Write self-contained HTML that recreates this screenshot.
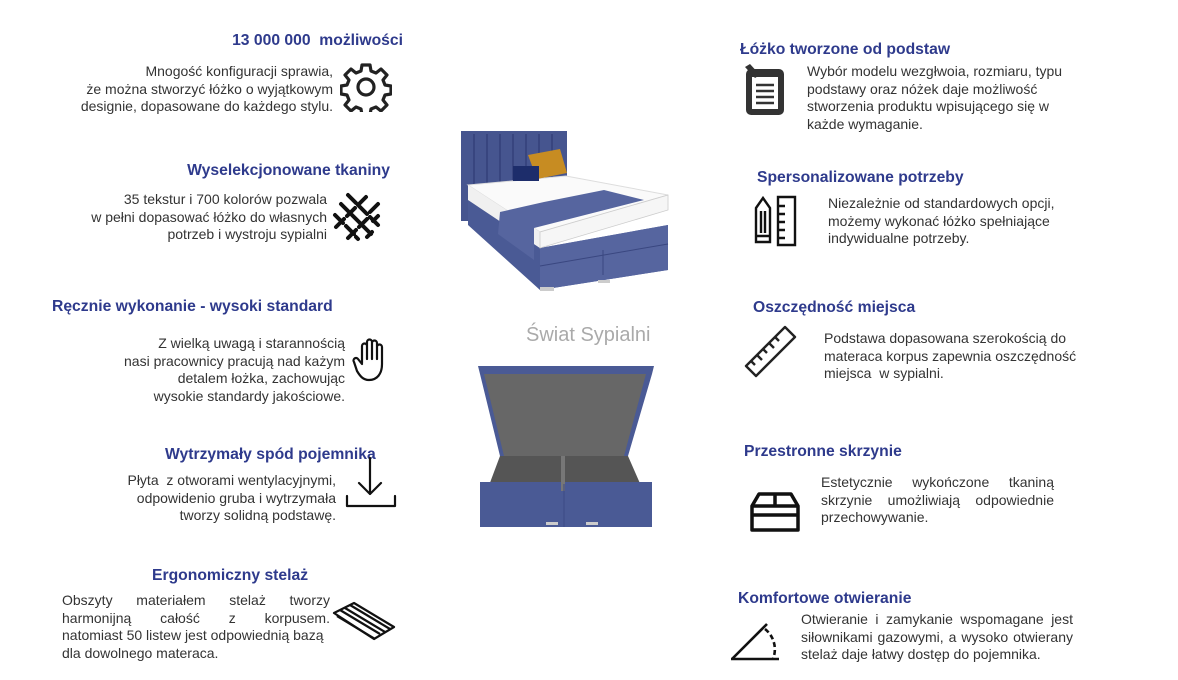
<!DOCTYPE html>
<html><head><meta charset="utf-8"><style>
body{margin:0;width:1178px;height:680px;background:#fff;position:relative;overflow:hidden;font-family:"Liberation Sans",sans-serif}
.t{position:absolute;color:#2e3a8c;font-weight:bold;font-size:15.7px;white-space:nowrap;line-height:18px}
.b{position:absolute;color:#333;font-size:14px;line-height:17.7px}
.r{text-align:right}
.jl{text-align:justify;text-align-last:justify;white-space:nowrap;height:17.7px}
svg{position:absolute}
</style></head><body>
<svg style="left:0;top:0" width="1178" height="680">
<rect x="461" y="131" width="106" height="90" fill="#46558f"/>
<g stroke="#33407a" stroke-width="1.5"><path d="M474 134v78M487 134v78M500 134v78M513 134v78M526 134v78M539 134v78M552 134v78"/></g>
<path d="M468 200v25l72 65 128-20v-45l-128 23z" fill="#4a5a95"/>
<path d="M540 248v42l128-20v-45z" fill="#56659f"/>
<path d="M540 266l128-22" stroke="#3a4780"/>
<path d="M603 250v25" stroke="#3a4780"/>
<path d="M468 185l98-9 102 19-128 37z" fill="#fafafa" stroke="#ddd"/>
<path d="M468 185v15l72 48v-16z" fill="#f0f0f0"/>
<path d="M540 232l128-37v15l-128 38z" fill="#f6f6f6" stroke="#ccc" stroke-width=".8"/>
<path d="M500 212l-2 22 36 26 0-32 110-28-40-10-60 12z" fill="#56659f"/>
<path d="M528 155l32-6 7 24-30 6z" fill="#c78c22"/>
<path d="M513 166h26v15h-26z" fill="#1d2d6b"/>
<path d="M540 287h14v4h-14zM598 280h12v3h-12z" fill="#ccc"/>
<path d="M478 366h176l-2 8-24 82H500L480 374z" fill="#4a5a95"/>
<path d="M484 374h162l-22 82H504z" fill="#676767"/>
<path d="M500 456h128l14 32H488z" fill="#555"/>
<path d="M480 482h172v45H480z" fill="#4a5a95"/>
<path d="M563 456v35" stroke="#777" stroke-width="4"/>
<path d="M564 484v43" stroke="#3c4a85"/>
<path d="M546 522h12v3h-12zM586 522h12v3h-12z" fill="#ccc"/>
</svg>

<div class="t" style="right:775px;top:32px">13 000 000&nbsp; możliwości</div>
<div class="b r" style="right:845px;top:63px;white-space:nowrap">Mnogość konfiguracji sprawia,<br>że można stworzyć łóżko o wyjątkowym<br>designie, dopasowane do każdego stylu.</div>
<svg style="left:340px;top:62px" width="52" height="50" viewBox="0 0 52 50"><path d="M22 3h8l1 6 5 2 5-4 6 6-4 5 2 5 6 1v8l-6 1-2 5 4 5-6 6-5-4-5 2-1 6h-8l-1-6-5-2-5 4-6-6 4-5-2-5-6-1v-8l6-1 2-5-4-5 6-6 5 4 5-2z" fill="none" stroke="#222" stroke-width="3.2" stroke-linejoin="round"/><circle cx="26" cy="25" r="8" fill="none" stroke="#222" stroke-width="3.2"/></svg>

<div class="t" style="right:788px;top:162px">Wyselekcjonowane tkaniny</div>
<div class="b r" style="right:851px;top:191px;white-space:nowrap">35 tekstur i 700 kolorów pozwala<br>w pełni dopasować łóżko do własnych<br>potrzeb i wystroju sypialni</div>
<svg style="left:332px;top:192px" width="50" height="50" viewBox="0 0 50 50" stroke="#111" stroke-width="4" stroke-linecap="round"><path d="M16 3l8 8M27 14l8 8M38 25l8 8M9 12l8 8M20 23l8 8M31 34l8 8M3 23l8 8M14 34l8 8M24 45l2 2M34 5l-8 8M46 12l-8 8M23 16l-8 8M35 27l-8 8M12 27l-8 8M24 38l-8 8M46 24l-5 5M40 40l-5 5"/></svg>

<div class="t" style="left:52px;top:298px">Ręcznie wykonanie - wysoki standard</div>
<div class="b r" style="right:833px;top:335px;white-space:nowrap">Z wielką uwagą i starannością<br>nasi pracownicy pracują nad każym<br>detalem łożka, zachowując<br>wysokie standardy jakościowe.</div>
<svg style="left:352px;top:337px" width="40" height="46" viewBox="0 0 40 46" fill="none" stroke="#111" stroke-width="2.2" stroke-linejoin="round" stroke-linecap="round"><path d="M10 26V9a2.5 2.5 0 015 0v13M15 22V5a2.5 2.5 0 015 0v17M20 22V6a2.5 2.5 0 015 0v16M25 22V10a2.5 2.5 0 015 0v17c0 10-5 16-13 16-6 0-9-4-12-9L2 25a2.5 2.5 0 014-3l4 5"/></svg>

<div class="t" style="left:165px;top:446px">Wytrzymały spód pojemnika</div>
<div class="b r" style="right:842px;top:472px;white-space:nowrap">Płyta&nbsp; z otworami wentylacyjnymi,<br>odpowidenio gruba i wytrzymała<br>tworzy solidną podstawę.</div>
<svg style="left:344px;top:456px" width="54" height="54" viewBox="0 0 54 54" fill="none" stroke="#111" stroke-width="2.2" stroke-linecap="round" stroke-linejoin="round"><path d="M26 2v36M15 27l11 11 11-11M3 40v10h48V40"/></svg>

<div class="t" style="left:152px;top:567px">Ergonomiczny stelaż</div>
<div class="b" style="left:62px;top:592px;width:268px">
<div class="jl">Obszyty materiałem stelaż tworzy</div>
<div class="jl">harmonijną całość z korpusem.</div>
<div style="white-space:nowrap">natomiast 50 listew jest odpowiednią bazą</div>
<div>dla dowolnego materaca.</div></div>
<svg style="left:332px;top:601px" width="64" height="40" viewBox="0 0 64 40" fill="none" stroke="#111" stroke-width="2.2" stroke-linejoin="round"><path d="M2 12L22 2l40 24-20 12z"/><path d="M8 9l40 24M13 7l40 24M18 4l40 24M5 15l38 23"/></svg>

<div style="position:absolute;left:526px;top:324px;font-size:20px;color:#aaa;white-space:nowrap">Świat Sypialni</div>

<div class="t" style="left:740px;top:41px">Łóżko tworzone od podstaw</div>
<svg style="left:743px;top:63px" width="44" height="54" viewBox="0 0 44 54"><rect x="3" y="6" width="38" height="46" rx="5" fill="#333"/><rect x="9" y="14" width="26" height="32" fill="#fff"/><path d="M13 22h18M13 28h18M13 34h18M13 40h18" stroke="#333" stroke-width="2.4"/><path d="M2 4l5-3 10 11-5 3z" fill="#333"/></svg>
<div class="b" style="left:807px;top:63px;white-space:nowrap">Wybór modelu wezgłwoia, rozmiaru, typu<br>podstawy oraz nóżek daje możliwość<br>stworzenia produktu wpisującego się w<br>każde wymaganie.</div>

<div class="t" style="left:757px;top:169px">Spersonalizowane potrzeby</div>
<svg style="left:752px;top:194px" width="48" height="54" viewBox="0 0 48 54" fill="none" stroke="#111" stroke-width="2.4"><path d="M4 14l7-10 7 10v34H4zM4 42h14M9 17v22M13 17v22"/><path d="M26 3h17v48H26zM26 12h7M26 20h7M26 28h7M26 36h7M26 44h7"/></svg>
<div class="b" style="left:828px;top:195px;white-space:nowrap">Niezależnie od standardowych opcji,<br>możemy wykonać łóżko spełniające<br>indywidualne potrzeby.</div>

<div class="t" style="left:753px;top:299px">Oszczędność miejsca</div>
<svg style="left:743px;top:324px" width="56" height="56" viewBox="0 0 56 56" fill="none" stroke="#222" stroke-width="2.4" stroke-linejoin="round"><path d="M3 42L42 3l10 10-39 39z"/><path d="M14 31l5 5M20 25l4 4M26 19l5 5M32 13l4 4M8 37l4 4"/></svg>
<div class="b" style="left:824px;top:330px;white-space:nowrap">Podstawa dopasowana szerokością do<br>materaca korpus zapewnia oszczędność<br>miejsca&nbsp; w sypialni.</div>

<div class="t" style="left:744px;top:443px">Przestronne skrzynie</div>
<svg style="left:749px;top:491px" width="52" height="44" viewBox="0 0 52 44" fill="none" stroke="#111" stroke-width="3.5" stroke-linejoin="round"><path d="M10 3h32l7 12v24H3V15zM3 15h46M26 3v12M3 24h46"/></svg>
<div class="b" style="left:821px;top:474px;width:233px">
<div class="jl">Estetycznie wykończone tkaniną</div>
<div class="jl">skrzynie umożliwiają odpowiednie</div>
<div>przechowywanie.</div></div>

<div class="t" style="left:738px;top:590px">Komfortowe otwieranie</div>
<svg style="left:729px;top:621px" width="52" height="42" viewBox="0 0 52 42" fill="none" stroke="#111" stroke-width="2.6"><path d="M3 38L38 3M2 38h48"/><path d="M36 8a26 26 0 0 1 8 30" stroke-dasharray="5 3"/></svg>
<div class="b" style="left:801px;top:611px;width:272px">
<div class="jl">Otwieranie i zamykanie wspomagane jest</div>
<div class="jl">siłownikami gazowymi, a wysoko otwierany</div>
<div style="white-space:nowrap">stelaż daje łatwy dostęp do pojemnika.</div></div>
</body></html>
